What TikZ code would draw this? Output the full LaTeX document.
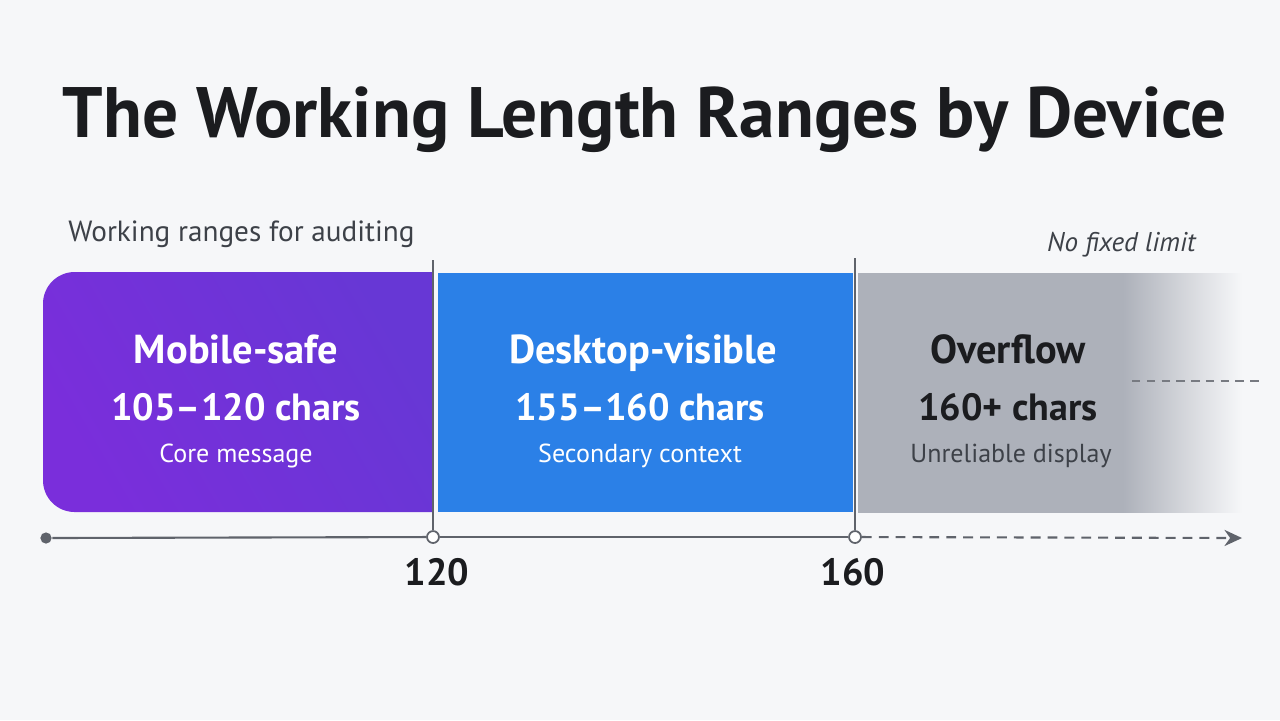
\documentclass[tikz,border=0pt]{standalone}
\usepackage{fontspec}
\setmainfont{PT Sans}
\usetikzlibrary{positioning, calc, arrows.meta}
\definecolor{bgGray}{HTML}{F6F7F9}
\definecolor{mbPurple}{HTML}{7A2EDB}
\definecolor{mbPurpleDk}{HTML}{6737D5}
\definecolor{dtBlue}{HTML}{2B80E7}
\definecolor{ovGray}{HTML}{ADB1BA}
\definecolor{ovMist}{HTML}{D4D6DB}
\definecolor{axisGray}{HTML}{5F636B}
\definecolor{txtDark}{HTML}{3D4148}
\definecolor{inkBlack}{HTML}{1B1C1F}

% overflow band fades out to the right
\pgfdeclarehorizontalshading{overflowFade}{100bp}{color(0bp)=(ovGray); color(59.5bp)=(ovGray);
  color(67.5bp)=(ovMist); color(75bp)=(bgGray); color(100bp)=(bgGray)}

\tikzset{
  headline/.style={font=\fontsize{11.5}{13}\selectfont\bfseries, anchor=base},
  sizeline/.style={font=\fontsize{10.8}{13}\selectfont\bfseries, anchor=base},
  noteline/.style={font=\fontsize{7.4}{9}\selectfont, anchor=base},
  ticklabel/.style={font=\fontsize{10.8}{12}\selectfont\bfseries, text=inkBlack, anchor=base},
  tickdot/.style={circle, draw=axisGray, fill=white, line width=0.5pt, inner sep=0pt, minimum size=3.4pt},
  guide/.style={draw=axisGray, line width=0.45pt}
}

\begin{document}
\begin{tikzpicture}[x=0.01cm, y=-0.01cm]
  \fill[bgGray] (0,0) rectangle (1280,720);
  \useasboundingbox (0,0) rectangle (1280,720);

  % heading
  \node[font=\fontsize{20.3}{24}\selectfont\bfseries, text=inkBlack, anchor=base] (title) at (645,137) {The Working Length Ranges by Device};
  \node[font=\fontsize{8.3}{10}\selectfont, text=txtDark, anchor=base west] (subtitle) at (56,241) {Working ranges for auditing};
  \node[font=\fontsize{7.7}{9}\selectfont\itshape, text=txtDark, anchor=base east] (nolimit) at (1208,251) {No fixed limit};

  % range bands
  \shade[left color=mbPurple, right color=mbPurpleDk, shading angle=120, rounded corners=9pt]
    (432,272) -- (43,272) -- (43,512) [sharp corners] -- (432,512) -- cycle;
  \fill[dtBlue] (438,273) rectangle (853,512);
  \shade[shading=overflowFade] (858,273) rectangle (1242,512);
  \draw[axisGray!85, line width=0.75pt, dash pattern=on 2.4pt off 1.8pt] (1132,381) -- (1262,381);

  % band texts
  \node[headline, text=white] (mobile) at (236,363) {Mobile-safe};
  \node[sizeline, text=white] (mobileSize) at (236,420) {105--120 chars};
  \node[noteline, text=white] (mobileNote) at (236,462) {Core message};

  \node[headline, text=white] (desktop) at (643,363) {Desktop-visible};
  \node[sizeline, text=white] (desktopSize) at (640,420) {155--160 chars};
  \node[noteline, text=white] (desktopNote) at (640,462) {Secondary context};

  \node[headline, text=inkBlack] (overflow) at (1008,363) {Overflow};
  \node[sizeline, text=inkBlack] (overflowSize) at (1008,420) {160+ chars};
  \node[noteline, text=txtDark] (overflowNote) at (1011,462) {Unreliable display};

  % axis
  \node[circle, fill=axisGray, inner sep=0pt, minimum size=3.2pt] (start) at (46,538) {};
  \node[tickdot] (tickA) at (433,537) {};
  \node[tickdot] (tickB) at (855,537) {};
  \coordinate (tickAtop) at (433,260);
  \coordinate (tickBtop) at (855,258);
  \coordinate (axisEnd) at (1242,538);
  \draw[guide] (tickAtop) -- (tickA);
  \draw[guide] (tickBtop) -- (tickB);
  \draw[axisGray, line width=0.6pt] (start) -- (tickA);
  \draw[axisGray, line width=0.6pt] (tickA) -- (tickB);
  \draw[axisGray, line width=0.6pt, dash pattern=on 2.8pt off 2pt, -{Stealth[length=5pt, width=4.6pt]}] (tickB) -- (axisEnd);

  \node[ticklabel] (lblA) at (437,585) {120};
  \node[ticklabel] (lblB) at (853,585) {160};
\end{tikzpicture}
\end{document}
